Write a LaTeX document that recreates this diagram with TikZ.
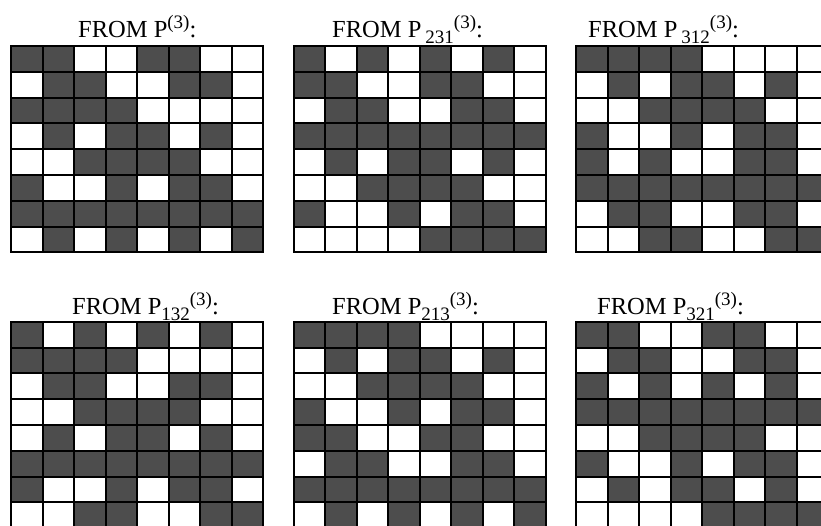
\documentclass[tikz,border=0pt]{standalone}
\usepackage{fontspec}
\setmainfont{Liberation Serif}
\definecolor{cellfill}{RGB}{77,77,77}
\tikzset{
  cellbox/.style={fill=cellfill},
  gridline/.style={line width=2pt, black, line cap=rect},
  titletext/.style={anchor=base west, inner sep=0pt, font=\fontsize{24.5}{26}\selectfont}
}
\newcommand\supthree{\raisebox{9pt}{\fontsize{19}{20}\selectfont (3)}}
\newcommand\subidx[1]{\raisebox{-6pt}{\fontsize{19}{20}\selectfont #1}}
\newcommand\drawcellgrid[3]{%
  \foreach \rowlist [count=\r] in {#3} {
    \foreach \v [count=\c] in \rowlist {
      \ifnum\v=1
        \fill[cellbox] ({#1+(\c-1)*31.5},{#2+(\r-1)*25.8}) rectangle ++(31.5,25.8);
      \fi
    }
  }
  \foreach \i in {0,...,8} \draw[gridline] ({#1+\i*31.5},#2) -- ++(0,206.4);
  \foreach \j in {0,...,8} \draw[gridline] (#1,{#2+\j*25.8}) -- ++(252,0);
}
\begin{document}
\begin{tikzpicture}[x=1pt,y=-1pt]
\useasboundingbox (0,0) rectangle (821,526);
\fill[white] (0,0) rectangle (821,526);
\begin{scope}
\clip (0,0) rectangle (821,526);
% grid 1: P^(3)
\drawcellgrid{11}{46}{{1,1,0,0,1,1,0,0},{0,1,1,0,0,1,1,0},{1,1,1,1,0,0,0,0},{0,1,0,1,1,0,1,0},{0,0,1,1,1,1,0,0},{1,0,0,1,0,1,1,0},{1,1,1,1,1,1,1,1},{0,1,0,1,0,1,0,1}}
% grid 2: P_231
\drawcellgrid{293.5}{46}{{1,0,1,0,1,0,1,0},{1,1,0,0,1,1,0,0},{0,1,1,0,0,1,1,0},{1,1,1,1,1,1,1,1},{0,1,0,1,1,0,1,0},{0,0,1,1,1,1,0,0},{1,0,0,1,0,1,1,0},{0,0,0,0,1,1,1,1}}
% grid 3: P_312
\drawcellgrid{576}{46}{{1,1,1,1,0,0,0,0},{0,1,0,1,1,0,1,0},{0,0,1,1,1,1,0,0},{1,0,0,1,0,1,1,0},{1,0,1,0,0,1,1,0},{1,1,1,1,1,1,1,1},{0,1,1,0,0,1,1,0},{0,0,1,1,0,0,1,1}}
% grid 4: P_132
\drawcellgrid{11}{321.7}{{1,0,1,0,1,0,1,0},{1,1,1,1,0,0,0,0},{0,1,1,0,0,1,1,0},{0,0,1,1,1,1,0,0},{0,1,0,1,1,0,1,0},{1,1,1,1,1,1,1,1},{1,0,0,1,0,1,1,0},{0,0,1,1,0,0,1,1}}
% grid 5: P_213
\drawcellgrid{293.5}{321.7}{{1,1,1,1,0,0,0,0},{0,1,0,1,1,0,1,0},{0,0,1,1,1,1,0,0},{1,0,0,1,0,1,1,0},{1,1,0,0,1,1,0,0},{0,1,1,0,0,1,1,0},{1,1,1,1,1,1,1,1},{0,1,0,1,0,1,0,1}}
% grid 6: P_321
\drawcellgrid{576}{321.7}{{1,1,0,0,1,1,0,0},{0,1,1,0,0,1,1,0},{1,0,1,0,1,0,1,0},{1,1,1,1,1,1,1,1},{0,0,1,1,1,1,0,0},{1,0,0,1,0,1,1,0},{0,1,0,1,1,0,1,0},{0,0,0,0,1,1,1,1}}
\end{scope}
% titles
\node[titletext] (t1) at (78,38) {FROM P\supthree:};
\node[titletext] (t2) at (332,38) {FROM P\,\subidx{231}\supthree:};
\node[titletext] (t3) at (588,38) {FROM P\,\subidx{312}\supthree:};
\node[titletext] (t4) at (72,314.5) {FROM P\subidx{132}\supthree:};
\node[titletext] (t5) at (332,314.5) {FROM P\subidx{213}\supthree:};
\node[titletext] (t6) at (597,314.5) {FROM P\subidx{321}\supthree:};
\end{tikzpicture}
\end{document}
